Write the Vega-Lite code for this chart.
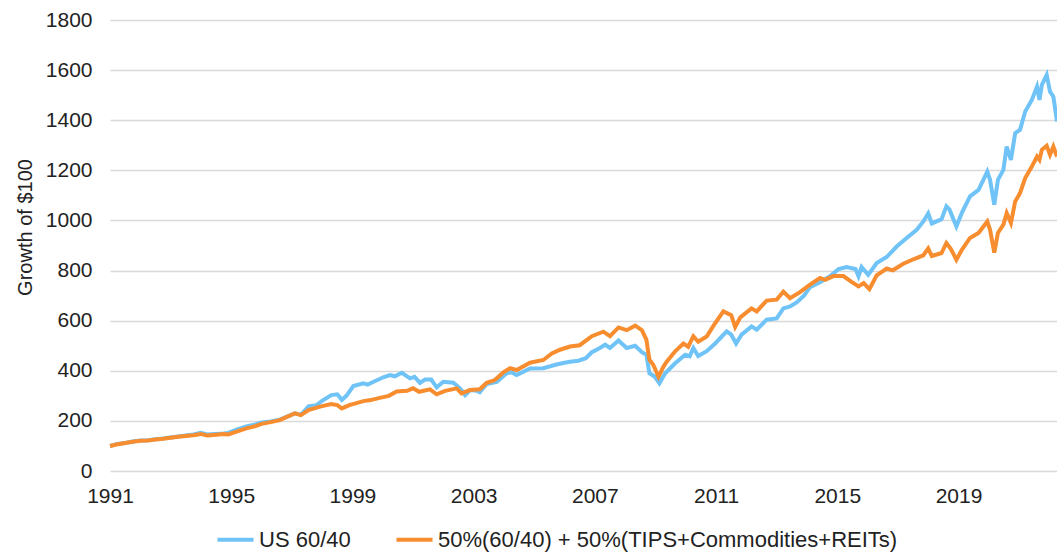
{
  "$schema": "https://vega.github.io/schema/vega-lite/v6.json",
  "autosize": "none",
  "width": 947,
  "height": 451,
  "padding": {"top": 20, "left": 110, "right": 0, "bottom": 81},
  "background": "white",
  "config": {
    "font": "Liberation Sans",
    "view": {"stroke": null},
    "axis": {"labelFont": "Liberation Sans", "labelColor": "#222222", "titleColor": "#222222", "titleFont": "Liberation Sans"}
  },
  "datasets": {
    "blue": [
      {"year":1991.0,"value":100},{"year":1991.25,"value":108},{"year":1991.5,"value":112},{"year":1991.75,"value":118},
      {"year":1992.0,"value":122},{"year":1992.25,"value":123},{"year":1992.5,"value":127},{"year":1992.75,"value":130},
      {"year":1993.0,"value":134},{"year":1993.25,"value":138},{"year":1993.5,"value":142},{"year":1993.75,"value":146},
      {"year":1994.0,"value":152},{"year":1994.2,"value":146},{"year":1994.5,"value":148},{"year":1994.75,"value":150},
      {"year":1994.9,"value":152},{"year":1995.2,"value":166},{"year":1995.5,"value":178},{"year":1995.8,"value":186},
      {"year":1996.0,"value":194},{"year":1996.3,"value":198},{"year":1996.6,"value":205},{"year":1996.8,"value":215},
      {"year":1997.1,"value":230},{"year":1997.3,"value":224},{"year":1997.55,"value":258},{"year":1997.8,"value":262},
      {"year":1998.0,"value":280},{"year":1998.3,"value":303},{"year":1998.5,"value":306},{"year":1998.65,"value":284},
      {"year":1998.8,"value":300},{"year":1999.03,"value":339},{"year":1999.36,"value":350},{"year":1999.5,"value":345},
      {"year":1999.7,"value":356},{"year":2000.02,"value":374},{"year":2000.24,"value":383},{"year":2000.4,"value":378},
      {"year":2000.63,"value":392},{"year":2000.9,"value":370},{"year":2001.05,"value":376},{"year":2001.23,"value":352},
      {"year":2001.4,"value":365},{"year":2001.6,"value":365},{"year":2001.78,"value":334},{"year":2002.0,"value":356},
      {"year":2002.33,"value":352},{"year":2002.55,"value":330},{"year":2002.72,"value":303},{"year":2002.88,"value":323},
      {"year":2003.1,"value":320},{"year":2003.2,"value":314},{"year":2003.43,"value":347},{"year":2003.76,"value":356},
      {"year":2004.09,"value":390},{"year":2004.25,"value":394},{"year":2004.42,"value":383},{"year":2004.86,"value":409},
      {"year":2005.3,"value":410},{"year":2005.73,"value":425},{"year":2005.96,"value":431},{"year":2006.18,"value":436},
      {"year":2006.46,"value":440},{"year":2006.7,"value":450},{"year":2006.9,"value":474},{"year":2007.15,"value":490},
      {"year":2007.34,"value":504},{"year":2007.5,"value":491},{"year":2007.78,"value":521},{"year":2008.05,"value":491},
      {"year":2008.33,"value":500},{"year":2008.55,"value":474},{"year":2008.7,"value":464},{"year":2008.8,"value":390},
      {"year":2008.98,"value":376},{"year":2009.13,"value":350},{"year":2009.32,"value":390},{"year":2009.65,"value":430},
      {"year":2009.98,"value":464},{"year":2010.13,"value":458},{"year":2010.25,"value":491},{"year":2010.41,"value":459},
      {"year":2010.69,"value":478},{"year":2010.97,"value":509},{"year":2011.35,"value":557},{"year":2011.5,"value":544},
      {"year":2011.66,"value":509},{"year":2011.84,"value":544},{"year":2012.17,"value":577},{"year":2012.34,"value":564},
      {"year":2012.67,"value":604},{"year":2013.0,"value":609},{"year":2013.22,"value":649},{"year":2013.44,"value":657},
      {"year":2013.66,"value":673},{"year":2013.9,"value":700},{"year":2014.1,"value":734},{"year":2014.43,"value":753},
      {"year":2014.77,"value":778},{"year":2015.04,"value":806},{"year":2015.31,"value":814},{"year":2015.6,"value":806},
      {"year":2015.7,"value":777},{"year":2015.8,"value":814},{"year":2016.02,"value":783},{"year":2016.3,"value":830},
      {"year":2016.63,"value":854},{"year":2016.96,"value":896},{"year":2017.29,"value":930},{"year":2017.62,"value":963},
      {"year":2017.84,"value":996},{"year":2018.0,"value":1028},{"year":2018.12,"value":988},{"year":2018.44,"value":1005},
      {"year":2018.6,"value":1056},{"year":2018.7,"value":1044},{"year":2018.93,"value":976},{"year":2019.11,"value":1030},
      {"year":2019.38,"value":1096},{"year":2019.66,"value":1122},{"year":2019.95,"value":1195},{"year":2020.04,"value":1162},
      {"year":2020.18,"value":1063},{"year":2020.3,"value":1162},{"year":2020.48,"value":1202},{"year":2020.59,"value":1295},
      {"year":2020.73,"value":1242},{"year":2020.87,"value":1348},{"year":2021.03,"value":1362},{"year":2021.2,"value":1435},
      {"year":2021.42,"value":1481},{"year":2021.59,"value":1534},{"year":2021.67,"value":1481},{"year":2021.75,"value":1541},
      {"year":2021.91,"value":1581},{"year":2022.02,"value":1514},{"year":2022.13,"value":1494},{"year":2022.25,"value":1395}
    ],
    "orange": [
      {"year":1991.0,"value":100},{"year":1991.25,"value":107},{"year":1991.5,"value":112},{"year":1991.75,"value":117},
      {"year":1992.0,"value":121},{"year":1992.25,"value":122},{"year":1992.5,"value":126},{"year":1992.75,"value":129},
      {"year":1993.0,"value":133},{"year":1993.25,"value":137},{"year":1993.5,"value":140},{"year":1993.75,"value":143},
      {"year":1994.0,"value":148},{"year":1994.2,"value":142},{"year":1994.5,"value":145},{"year":1994.75,"value":148},
      {"year":1994.9,"value":146},{"year":1995.2,"value":158},{"year":1995.5,"value":170},{"year":1995.8,"value":179},
      {"year":1996.0,"value":188},{"year":1996.3,"value":195},{"year":1996.6,"value":203},{"year":1996.8,"value":214},
      {"year":1997.1,"value":230},{"year":1997.3,"value":223},{"year":1997.55,"value":243},{"year":1997.9,"value":256},
      {"year":1998.3,"value":267},{"year":1998.5,"value":263},{"year":1998.65,"value":250},{"year":1998.9,"value":263},
      {"year":1999.36,"value":279},{"year":1999.6,"value":283},{"year":1999.9,"value":292},{"year":2000.2,"value":300},
      {"year":2000.46,"value":317},{"year":2000.8,"value":320},{"year":2001.0,"value":330},{"year":2001.2,"value":316},
      {"year":2001.56,"value":326},{"year":2001.78,"value":306},{"year":2002.06,"value":320},{"year":2002.44,"value":330},
      {"year":2002.6,"value":310},{"year":2002.88,"value":323},{"year":2003.2,"value":326},{"year":2003.43,"value":352},
      {"year":2003.7,"value":363},{"year":2003.98,"value":394},{"year":2004.2,"value":410},{"year":2004.42,"value":403},
      {"year":2004.86,"value":432},{"year":2005.3,"value":443},{"year":2005.58,"value":469},{"year":2005.85,"value":484},
      {"year":2006.18,"value":497},{"year":2006.5,"value":502},{"year":2006.9,"value":538},{"year":2007.28,"value":556},
      {"year":2007.5,"value":538},{"year":2007.78,"value":573},{"year":2008.05,"value":562},{"year":2008.33,"value":580},
      {"year":2008.55,"value":562},{"year":2008.7,"value":524},{"year":2008.8,"value":444},{"year":2008.93,"value":423},
      {"year":2009.1,"value":376},{"year":2009.26,"value":416},{"year":2009.37,"value":436},{"year":2009.65,"value":478},
      {"year":2009.92,"value":509},{"year":2010.08,"value":496},{"year":2010.25,"value":538},{"year":2010.41,"value":516},
      {"year":2010.69,"value":537},{"year":2010.9,"value":577},{"year":2011.24,"value":637},{"year":2011.5,"value":622},
      {"year":2011.63,"value":575},{"year":2011.8,"value":613},{"year":2012.17,"value":649},{"year":2012.34,"value":637},
      {"year":2012.67,"value":680},{"year":2013.0,"value":684},{"year":2013.22,"value":716},{"year":2013.44,"value":690},
      {"year":2013.77,"value":714},{"year":2014.1,"value":744},{"year":2014.43,"value":770},{"year":2014.6,"value":763},
      {"year":2014.87,"value":778},{"year":2015.2,"value":778},{"year":2015.47,"value":755},{"year":2015.7,"value":737},
      {"year":2015.87,"value":750},{"year":2016.06,"value":726},{"year":2016.3,"value":781},{"year":2016.63,"value":808},
      {"year":2016.83,"value":801},{"year":2017.18,"value":827},{"year":2017.51,"value":845},{"year":2017.84,"value":861},
      {"year":2018.0,"value":888},{"year":2018.12,"value":858},{"year":2018.44,"value":870},{"year":2018.6,"value":910},
      {"year":2018.75,"value":886},{"year":2018.93,"value":843},{"year":2019.11,"value":883},{"year":2019.38,"value":930},
      {"year":2019.66,"value":950},{"year":2019.95,"value":996},{"year":2020.04,"value":963},{"year":2020.18,"value":872},
      {"year":2020.3,"value":950},{"year":2020.48,"value":983},{"year":2020.59,"value":1030},{"year":2020.73,"value":990},
      {"year":2020.87,"value":1076},{"year":2021.03,"value":1109},{"year":2021.2,"value":1169},{"year":2021.42,"value":1215},
      {"year":2021.59,"value":1255},{"year":2021.67,"value":1242},{"year":2021.75,"value":1282},{"year":2021.91,"value":1298},
      {"year":2022.02,"value":1262},{"year":2022.13,"value":1295},{"year":2022.25,"value":1255}
    ]
  },
  "encoding": {
    "x": {
      "field": "year", "type": "quantitative",
      "scale": {"domain": [1991, 2022.25], "nice": false, "zero": false},
      "axis": {
        "title": null, "values": [1991, 1995, 1999, 2003, 2007, 2011, 2015, 2019],
        "format": "d", "grid": false, "ticks": false, "domain": false,
        "labelFontSize": 21, "labelPadding": 14, "labelFlush": false, "labelOverlap": false
      }
    },
    "y": {
      "field": "value", "type": "quantitative",
      "scale": {"domain": [0, 1800], "nice": false},
      "axis": {
        "title": "Growth of $100", "values": [0, 200, 400, 600, 800, 1000, 1200, 1400, 1600, 1800],
        "format": "d",
        "grid": true, "gridColor": "#d9d9d9", "gridWidth": 1.3, "ticks": false, "domain": false,
        "labelFontSize": 21, "labelPadding": 18,
        "titleFontSize": 20, "titleFontWeight": "normal", "titleAngle": 270,
        "titleBaseline": "alphabetic", "titleAlign": "center", "titleX": -79, "titleY": 207
      }
    },
    "color": {
      "field": "series", "type": "nominal",
      "scale": {
        "domain": ["US 60/40", "50%(60/40) + 50%(TIPS+Commodities+REITs)"],
        "range": ["#6fc3f7", "#f78d2f"]
      },
      "legend": {
        "title": null, "orient": "none", "direction": "horizontal",
        "legendX": 105, "legendY": 499, "padding": 0,
        "symbolType": "stroke", "symbolSize": 1300, "symbolStrokeWidth": 4,
        "labelFontSize": 22, "labelColor": "#222222", "labelFont": "Liberation Sans",
        "labelOffset": 3, "columnPadding": 37, "labelLimit": 600
      }
    }
  },
  "layer": [
    {
      "data": {"name": "blue"},
      "transform": [{"calculate": "'US 60/40'", "as": "series"}],
      "mark": {"type": "line", "strokeWidth": 4, "interpolate": "linear"}
    },
    {
      "data": {"name": "orange"},
      "transform": [{"calculate": "'50%(60/40) + 50%(TIPS+Commodities+REITs)'", "as": "series"}],
      "mark": {"type": "line", "strokeWidth": 4, "interpolate": "linear"}
    }
  ]
}
